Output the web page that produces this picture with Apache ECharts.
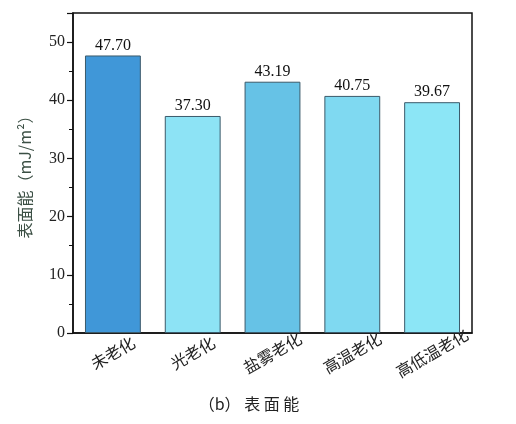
<!DOCTYPE html>
<html>
<head>
<meta charset="utf-8">
<script src="https://cdn.jsdelivr.net/npm/echarts@6/dist/echarts.min.js"></script>
<style>
  html, body { margin: 0; padding: 0; background: #fff; }
  #chart { width: 516px; height: 424px; }
</style>
</head>
<body>
<div id="chart"></div>
<script>
// 表面能数据
var categories = ['未老化', '光老化', '盐雾老化', '高温老化', '高低温老化'];
var values = [47.70, 37.30, 43.19, 40.75, 39.67];
var barColors = ['#4097d8', '#8de3f5', '#66c2e6', '#7fd9f1', '#8ce6f6'];

var serif = '"Liberation Serif", "Times New Roman", serif';
var cjk = '"Noto Sans CJK SC", sans-serif';

var chart = echarts.init(document.getElementById('chart'));

var option = {
    backgroundColor: '#fff',
    animation: false,
    title: {
        text: '（b） 表 面 能',
        left: 244,
        textAlign: 'center',
        top: 391,
        textStyle: { fontFamily: cjk, fontSize: 16, fontWeight: 'normal', color: '#222' }
    },
    grid: {
        left: 73,
        right: 44,
        top: 13,
        bottom: 91,
        show: true,
        borderColor: '#111',
        borderWidth: 1.5
    },
    xAxis: {
        type: 'category',
        data: categories,
        axisLine: { lineStyle: { color: '#111', width: 1.5 } },
        axisTick: { alignWithLabel: true, length: 5, lineStyle: { color: '#111', width: 1.2 } },
        axisLabel: {
            rotate: 30,
            align: 'center',
            verticalAlign: 'middle',
            margin: 20,
            fontFamily: cjk,
            fontSize: 16,
            color: '#222'
        }
    },
    yAxis: {
        type: 'value',
        min: 0,
        max: 55,
        interval: 10,
        name: '表面能（mJ/m²）',
        nameLocation: 'middle',
        nameGap: 40,
        nameTextStyle: { fontFamily: cjk, fontSize: 16, color: '#3b4f44' },
        axisLine: { show: true, lineStyle: { color: '#111', width: 1.5 } },
        axisTick: { show: true, length: 6, lineStyle: { color: '#111', width: 1.2 } },
        minorTick: { show: true, splitNumber: 2, length: 4, lineStyle: { color: '#111', width: 1 } },
        splitLine: { show: false },
        axisLabel: {
            fontFamily: serif,
            fontSize: 16,
            color: '#222',
            margin: 8,
            formatter: function (v) { return v % 10 === 0 ? String(v) : ''; }
        }
    },
    series: [
        {
            type: 'bar',
            barWidth: '70%',
            data: values.map(function (v, i) {
                return { value: v, itemStyle: { color: barColors[i] } };
            }),
            itemStyle: { borderColor: '#3b5a6a', borderWidth: 1 },
            label: {
                show: true,
                position: 'top',
                distance: 2,
                fontFamily: serif,
                fontSize: 16,
                color: '#111',
                formatter: function (p) { return p.value.toFixed(2); }
            }
        }
    ]
};

chart.setOption(option);
</script>
</body>
</html>
